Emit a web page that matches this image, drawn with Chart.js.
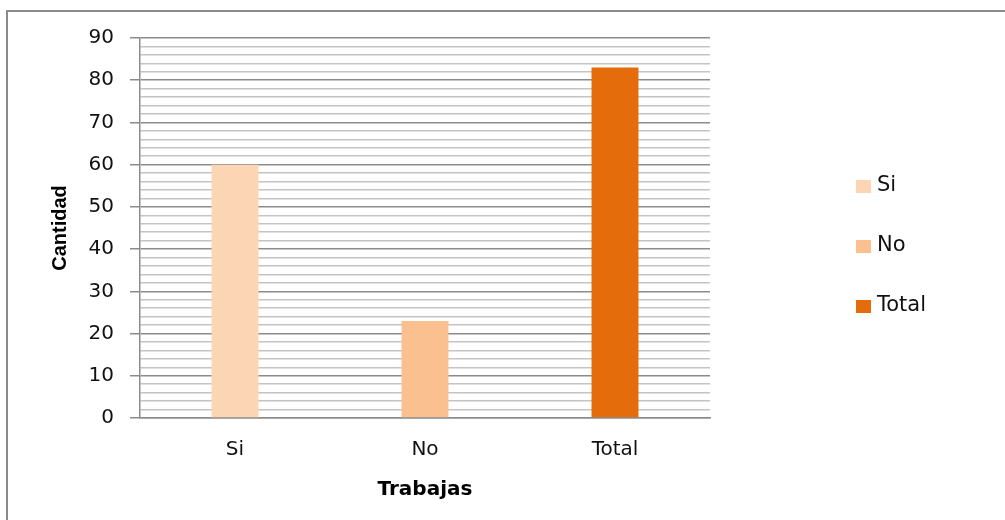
<!DOCTYPE html>
<html>
<head>
<meta charset="utf-8">
<script src="https://cdn.jsdelivr.net/npm/chart.js@4.4.1/dist/chart.umd.min.js"></script>
<style>
  html, body { margin: 0; padding: 0; background: #fff; overflow: hidden; }
  #wrap { position: relative; width: 1005px; height: 520px; }
  #frame { position: absolute; left: 6px; top: 10px; width: 1100px; height: 600px; border: 2px solid #8a8a8a; box-sizing: border-box; }
  #c { position: absolute; left: 0; top: 0; }
</style>
</head>
<body>
<div id="wrap">
  <div id="frame"></div>
  <canvas id="c" width="1005" height="520"></canvas>
</div>
<script>
// ---- data ----
const categories = ['Si', 'No', 'Total'];
const seriesNames = ['Si', 'No', 'Total'];
const siValues = [60, null, null];
const noValues = [null, 23, null];
const totalValues = [null, null, 83];
const seriesColors = ['#FCD5B5', '#FAC090', '#E46C0A'];
const yMin = 0, yMax = 90, yMajorStep = 10, yMinorStep = 2;
const xTitle = 'Trabajas';
const yTitle = 'Cantidad';

const seriesValues = [siValues, noValues, totalValues];

const legendPlugin = {
  id: 'sideLegend',
  afterDraw(chart) {
    const ctx = chart.ctx;
    ctx.save();
    ctx.font = '21px "DejaVu Sans"';
    ctx.textBaseline = 'middle';
    ctx.textAlign = 'left';
    chart.data.datasets.forEach((ds, i) => {
      const cy = 186 + i * 60;
      ctx.fillStyle = ds.backgroundColor;
      ctx.fillRect(856, cy - 6, 15, 13);
      ctx.fillStyle = '#111';
      ctx.fillText(ds.label, 877, cy);
    });
    ctx.restore();
  }
};

new Chart(document.getElementById('c'), {
  type: 'bar',
  data: {
    labels: categories,
    datasets: seriesNames.map((name, i) => ({
      label: name,
      data: seriesValues[i],
      backgroundColor: seriesColors[i],
      borderWidth: 0,
      categoryPercentage: 1,
      barPercentage: 0.247
    }))
  },
  options: {
    responsive: false,
    animation: false,
    skipNull: true,
    layout: { padding: { left: 0, top: 38, right: 295, bottom: 0 } },
    plugins: { legend: { display: false }, tooltip: { enabled: false } },
    scales: {
      x: {
        grid: { display: false },
        border: { display: true, color: '#8c8c8c', width: 1.5 },
        ticks: { color: '#111', font: { family: 'DejaVu Sans', size: 20 }, padding: 12, maxRotation: 0 },
        title: { display: true, text: xTitle, color: '#000', font: { family: 'DejaVu Sans', size: 20, weight: 'bold' }, padding: { top: 0, bottom: 18 } },
        afterFit(scale) { scale.height = 102; }
      },
      y: {
        min: yMin, max: yMax,
        border: { display: true, color: '#8c8c8c', width: 1.5 },
        grid: {
          color: c => (c.tick && c.tick.value % yMajorStep === 0) ? '#8c8c8c' : '#c4c4c4',
          tickColor: c => (c.tick && c.tick.value % yMajorStep === 0) ? '#8c8c8c' : 'rgba(0,0,0,0)',
          tickLength: 10,
          lineWidth: 1.5
        },
        ticks: {
          stepSize: yMinorStep,
          autoSkip: false,
          color: '#111',
          font: { family: 'DejaVu Sans', size: 20 },
          padding: 16,
          callback: v => (v % yMajorStep === 0 ? String(v) : '')
        },
        title: { display: true, text: yTitle, color: '#000', font: { family: 'Liberation Sans', size: 20, weight: 'bold' }, padding: { top: 48, bottom: 0 } },
        afterFit(scale) { scale.width = 140; }
      }
    }
  },
  plugins: [legendPlugin]
});
</script>
</body>
</html>
